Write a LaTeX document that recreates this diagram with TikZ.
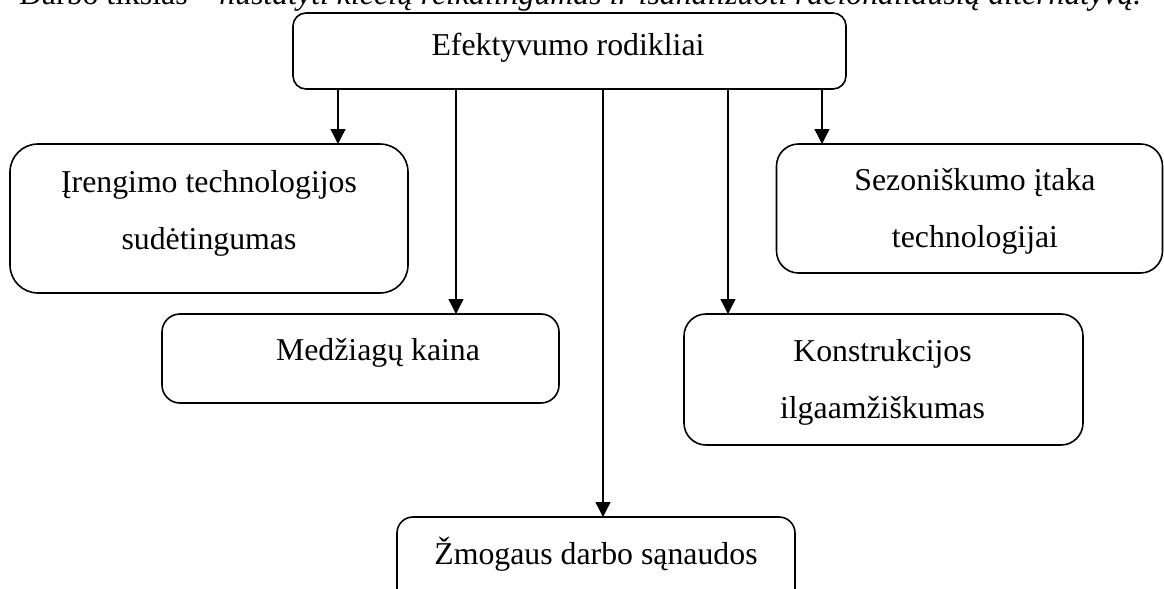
\documentclass[tikz,border=0pt]{standalone}
\usepackage{fontspec}
\setmainfont{Liberation Serif}
\usetikzlibrary{arrows.meta}
\begin{document}
\begin{tikzpicture}[x=0.5pt,y=-0.5pt,
  every node/.style={inner sep=0pt,outer sep=0pt},
  box/.style={draw,line width=0.8pt,rectangle},
  txt/.style={font=\fontsize{15.9}{28.2}\selectfont,align=center,anchor=center},
  arr/.style={line width=0.7pt,-{Triangle[width=7.5pt,length=7.5pt]}}]
\useasboundingbox (0,0) rectangle (1164,589);
\clip (0,0) rectangle (1164,589);
% partially visible heading line
\node[font=\fontsize{15.9}{19}\selectfont,anchor=base west] (head) at (19,4)
  {Darbo tikslas – \textit{nustatyti klėčių reikalingumas ir išanalizuoti racionaliausią alternatyvą.}};
% boxes
\node[box,rounded corners=6.5pt,minimum width=276.5pt,minimum height=38pt] (top) at (569.5,51) {};
\node[box,rounded corners=14pt,minimum width=199pt,minimum height=74.5pt] (ir) at (209,218.5) {};
\node[box,rounded corners=11pt,minimum width=193pt,minimum height=64.5pt] (sez) at (969.5,208.5) {};
\node[box,rounded corners=9pt,minimum width=198.5pt,minimum height=44.5pt] (med) at (360.5,358.5) {};
\node[box,rounded corners=11pt,minimum width=199.5pt,minimum height=65.5pt] (kon) at (883.5,379.5) {};
\node[box,rounded corners=8pt,minimum width=199pt,minimum height=60pt] (zm) at (596,577) {};
% texts
\node[txt] (ttop) at (568,48) {Efektyvumo rodikliai};
\node[txt] (tir) at (209,213.5) {Įrengimo technologijos\\sudėtingumas};
\node[txt] (tsez) at (975,211.5) {Sezoniškumo įtaka\\technologijai};
\node[txt] (tmed) at (378,353) {Medžiagų kaina};
\node[txt] (tkon) at (882.5,382.5) {Konstrukcijos\\ilgaamžiškumas};
\node[txt] (tzm) at (596,554) {Žmogaus darbo sąnaudos};
% arrow start points on the lower edge of the top box
\coordinate (c1) at (top.south -| 338,0);
\coordinate (c2) at (top.south -| 456,0);
\coordinate (c3) at (top.south -| 603,0);
\coordinate (c4) at (top.south -| 728,0);
\coordinate (c5) at (top.south -| 822,0);
\draw[arr] (c1) -- (c1 |- ir.north);
\draw[arr] (c2) -- (c2 |- med.north);
\draw[arr] (c3) -- (c3 |- zm.north);
\draw[arr] (c4) -- (c4 |- kon.north);
\draw[arr] (c5) -- (c5 |- sez.north);
\end{tikzpicture}
\end{document}
